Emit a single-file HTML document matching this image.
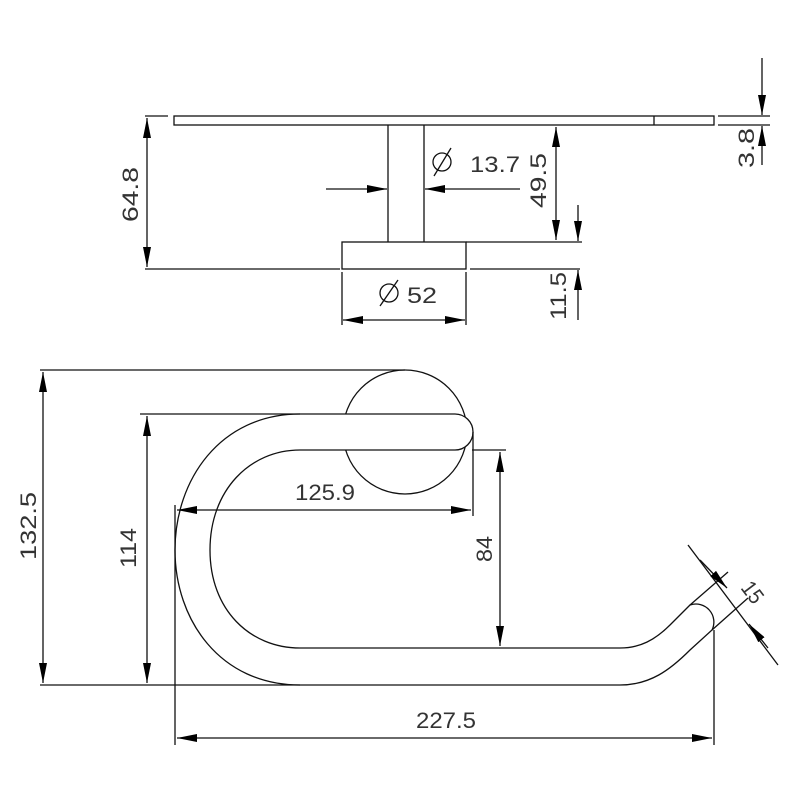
<!DOCTYPE html>
<html><head><style>html,body{margin:0;padding:0;background:#fff}svg{display:block}
text{font-family:"Liberation Sans",sans-serif;font-size:22px;fill:#333}</style></head>
<body>
<svg width="800" height="800" viewBox="0 0 800 800" xmlns="http://www.w3.org/2000/svg">
<defs><marker id="a" viewBox="0 0 10 4" refX="10" refY="2" markerWidth="20" markerHeight="8" markerUnits="userSpaceOnUse" orient="auto-start-reverse"><path d="M0,0L10,2L0,4z" fill="#000"/></marker></defs>
<g fill="none" stroke="#111" stroke-width="1.3">
<rect x="174" y="116" width="540" height="9"/>
<line x1="654" y1="116" x2="654" y2="125"/>
<line x1="388" y1="125" x2="388" y2="242"/><line x1="424" y1="125" x2="424" y2="242"/>
<rect x="342" y="242" width="124" height="27"/>
<line x1="145" y1="116" x2="168" y2="116"/>
<line x1="145" y1="269" x2="340" y2="269"/><line x1="470" y1="269" x2="580" y2="269"/>
<line x1="466" y1="242" x2="582" y2="242"/>
<line x1="147" y1="118" x2="147" y2="267" marker-start="url(#a)" marker-end="url(#a)"/>
<line x1="556" y1="127" x2="556" y2="240" marker-start="url(#a)" marker-end="url(#a)"/>
<line x1="578" y1="205" x2="578" y2="241" marker-end="url(#a)"/>
<line x1="578" y1="320" x2="578" y2="270" marker-end="url(#a)"/>
<line x1="718" y1="116" x2="770" y2="116"/><line x1="718" y1="125" x2="770" y2="125"/>
<line x1="762" y1="58" x2="762" y2="115" marker-end="url(#a)"/>
<line x1="762" y1="165" x2="762" y2="126" marker-end="url(#a)"/>
<line x1="326" y1="189" x2="387" y2="189" marker-end="url(#a)"/>
<line x1="520" y1="189" x2="425" y2="189" marker-end="url(#a)"/>
<line x1="342" y1="272" x2="342" y2="325"/><line x1="466" y1="272" x2="466" y2="325"/>
<line x1="343" y1="320" x2="465" y2="320" marker-start="url(#a)" marker-end="url(#a)"/>
<circle cx="442" cy="162" r="9"/><line x1="434" y1="176" x2="451" y2="148"/>
<circle cx="389" cy="293" r="9"/><line x1="380" y1="306" x2="398" y2="280"/>
<circle cx="405" cy="432" r="62"/>
<path d="M455,414 L300,414 C220,414 175,480 175,550 C175,620 220,685 300,685 L620,685 C650,685 670,670 690,650 L712,630 A18,18 0 0 0 690,605 L670,625 C655,640 640,648 620,648 L300,648 C250,648 210,610 210,550 C210,490 250,450 300,450 L455,450 A18,18 0 0 0 455,414 Z" fill="#fff"/>
<line x1="40" y1="370" x2="405" y2="370"/>
<line x1="40" y1="685" x2="300" y2="685"/>
<line x1="140" y1="414" x2="300" y2="414"/>
<line x1="43" y1="372" x2="43" y2="683" marker-start="url(#a)" marker-end="url(#a)"/>
<line x1="147" y1="416" x2="147" y2="683" marker-start="url(#a)" marker-end="url(#a)"/>
<line x1="473" y1="432" x2="473" y2="516"/>
<line x1="175" y1="505" x2="175" y2="745"/>
<line x1="177" y1="510" x2="471" y2="510" marker-start="url(#a)" marker-end="url(#a)"/>
<line x1="472" y1="450" x2="506" y2="450"/>
<line x1="500" y1="452" x2="500" y2="646" marker-start="url(#a)" marker-end="url(#a)"/>
<line x1="714" y1="630" x2="714" y2="745"/>
<line x1="177" y1="738" x2="712" y2="738" marker-start="url(#a)" marker-end="url(#a)"/>
<line x1="690" y1="605" x2="728" y2="572"/><line x1="712" y1="630" x2="748" y2="598"/>
<line x1="688" y1="545" x2="778" y2="665"/>
<line x1="700" y1="560" x2="727" y2="588" marker-end="url(#a)"/>
<line x1="768" y1="648" x2="749" y2="624" marker-end="url(#a)"/>
</g>
<g>
<text x="470" y="172" textLength="50" lengthAdjust="spacingAndGlyphs">13.7</text>
<text transform="translate(546,208) rotate(-90)" textLength="55" lengthAdjust="spacingAndGlyphs">49.5</text>
<text transform="translate(138,222) rotate(-90)" textLength="55" lengthAdjust="spacingAndGlyphs">64.8</text>
<text x="407" y="303" textLength="30" lengthAdjust="spacingAndGlyphs">52</text>
<text transform="translate(566,320) rotate(-90)" textLength="48" lengthAdjust="spacingAndGlyphs">11.5</text>
<text transform="translate(754,168) rotate(-90)" textLength="40" lengthAdjust="spacingAndGlyphs">3.8</text>
<text transform="translate(36,560) rotate(-90)" textLength="68" lengthAdjust="spacingAndGlyphs">132.5</text>
<text transform="translate(136,568) rotate(-90)" textLength="40" lengthAdjust="spacingAndGlyphs">114</text>
<text x="295" y="500" textLength="60" lengthAdjust="spacingAndGlyphs">125.9</text>
<text transform="translate(492,562) rotate(-90)" textLength="26" lengthAdjust="spacingAndGlyphs">84</text>
<text x="416" y="728" textLength="60" lengthAdjust="spacingAndGlyphs">227.5</text>
<text transform="translate(740,588) rotate(53)" textLength="22" lengthAdjust="spacingAndGlyphs">15</text>
</g>
</svg>
</body></html>
